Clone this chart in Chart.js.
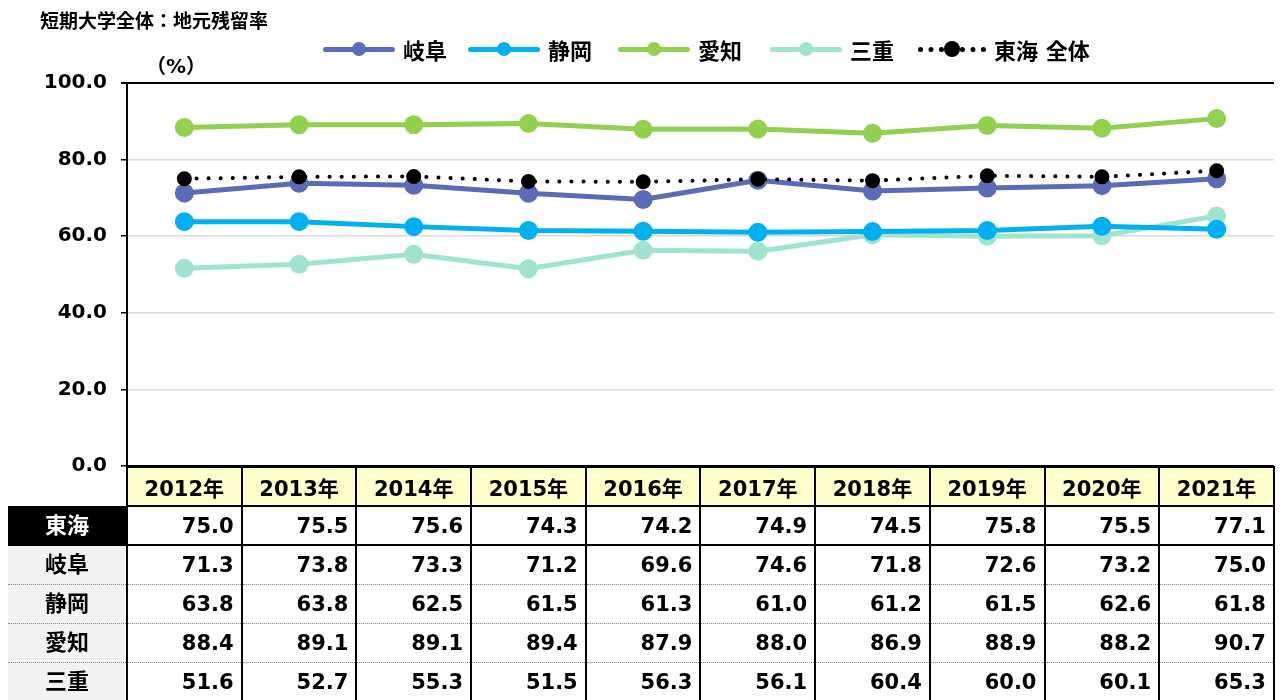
<!DOCTYPE html>
<html lang="ja">
<head>
<meta charset="utf-8">
<title>短期大学全体：地元残留率</title>
<script src="https://cdn.jsdelivr.net/npm/chart.js@4/dist/chart.umd.min.js"></script>
<style>
  html, body { margin: 0; padding: 0; background: #fff; }
  body { font-family: "DejaVu Sans", "Noto Sans CJK JP", sans-serif; font-weight: bold; color: #000; }
  #wrap { position: relative; width: 1286px; height: 700px; overflow: hidden; }
  #c { position: absolute; left: 0; top: 0; }
  #title { position: absolute; left: 40px; top: 6px; font-size: 19px; }
  #unit { position: absolute; left: 146px; top: 50px; font-size: 20px; }
  .lg { position: absolute; top: 33px; display: flex; align-items: center; font-size: 22px; white-space: nowrap; }
  .lg .mk { position: relative; width: 72px; height: 14px; margin-right: 8px; }
  .lg .ln { position: absolute; left: 0; right: 0; top: 5px; height: 5px; border-radius: 3px; }
  .lg .dt { position: absolute; left: 29px; top: 0; width: 14px; height: 14px; border-radius: 50%; }
  .lg .dots { position: absolute; left: 0; right: 0; top: 5px; height: 0; border-top: 5px dotted #000; }
  #tbl { position: absolute; left: 8px; top: 466px; border-collapse: collapse; table-layout: fixed; }
  #tbl tr { height: 39px; }
  #tbl td { height: 39px; padding: 0; font-size: 21px; box-sizing: border-box; }
  #tbl tr.hd td { background: #ffffcc; border: 2px solid #000; text-align: center; font-size: 21px; }
  #tbl tr.hd td.blank { background: transparent; border: none; border-right: 2px solid #000; }
  #tbl td.lab { text-align: center; background: #f2f2f2; border-right: 2px solid #000; font-size: 22px; padding-bottom: 5px; }
  #tbl tr.first td.lab { background: #000; color: #fff; }
  #tbl td.val { text-align: right; padding-right: 7px; border-right: 2px solid #000; border-bottom: 1px dotted #888; }
  #tbl tr.first td { border-bottom: 2px solid #000; }
  #tbl td.lab { border-bottom: 1px dotted #888; }
</style>
</head>
<body>
<div id="wrap">
  <canvas id="c" width="1286" height="700"></canvas>
  <table id="tbl"></table>
  <div id="title">短期大学全体：地元残留率</div>
  <div id="unit">（%）</div>
  <div id="legend"></div>
</div>
<script>
var years = ["2012年", "2013年", "2014年", "2015年", "2016年", "2017年", "2018年", "2019年", "2020年", "2021年"];
var tokai = [75.0, 75.5, 75.6, 74.3, 74.2, 74.9, 74.5, 75.8, 75.5, 77.1];
var gifu = [71.3, 73.8, 73.3, 71.2, 69.6, 74.6, 71.8, 72.6, 73.2, 75.0];
var shizuoka = [63.8, 63.8, 62.5, 61.5, 61.3, 61.0, 61.2, 61.5, 62.6, 61.8];
var aichi = [88.4, 89.1, 89.1, 89.4, 87.9, 88.0, 86.9, 88.9, 88.2, 90.7];
var mie = [51.6, 52.7, 55.3, 51.5, 56.3, 56.1, 60.4, 60.0, 60.1, 65.3];

var series = [
  { name: "東海", legend: "東海 全体", data: tokai, color: "#000000", dotted: true, left: 918 },
  { name: "岐阜", legend: "岐阜", data: gifu, color: "#5b6bb5", left: 323 },
  { name: "静岡", legend: "静岡", data: shizuoka, color: "#00b0f0", left: 468 },
  { name: "愛知", legend: "愛知", data: aichi, color: "#92d050", left: 618 },
  { name: "三重", legend: "三重", data: mie, color: "#a0e3d0", left: 770 }
];

function lineDataset(s) {
  var ds = {
    label: s.legend,
    data: s.data,
    borderColor: s.color,
    backgroundColor: s.color,
    pointBackgroundColor: s.color,
    pointBorderColor: s.color,
    borderWidth: 5,
    pointRadius: 7,
    pointHoverRadius: 7,
    tension: 0,
    clip: false
  };
  if (s.dotted) {
    ds.borderWidth = 4;
    ds.borderDash = [0.1, 12];
    ds.borderCapStyle = "round";
    ds.pointRadius = 6;
    ds.pointBorderWidth = 3;
    ds.pointBorderColor = "#000";
  }
  return ds;
}

var chart = new Chart(document.getElementById("c"), {
  type: "line",
  data: { labels: years, datasets: series.map(lineDataset) },
  options: {
    responsive: false,
    animation: false,
    layout: { padding: { top: 83, bottom: 234, left: 0, right: 0 } },
    plugins: { legend: { display: false }, tooltip: { enabled: false } },
    scales: {
      x: {
        offset: true,
        display: false
      },
      y: {
        min: 0,
        max: 100,
        ticks: {
          stepSize: 20,
          color: "#000",
          padding: 14,
          font: { family: "'DejaVu Sans', sans-serif", size: 20, weight: "bold" },
          callback: function (v) { return v.toFixed(1); }
        },
        grid: {
          color: function (ctx) { return ctx.tick && (ctx.tick.value === 100 || ctx.tick.value === 0) ? "#000" : "#d9d9d9"; },
          lineWidth: function (ctx) { return ctx.tick && ctx.tick.value === 100 ? 2 : 1.5; },
          tickColor: "#000",
          tickLength: 6
        },
        border: { color: "#000", width: 2 },
        afterFit: function (scale) { scale.width = 127; }
      }
    }
  }
});

// legend
var legend = document.getElementById("legend");
series.forEach(function (s) {
  var item = document.createElement("div");
  item.className = "lg";
  item.style.left = s.left + "px";
  var mk = document.createElement("span");
  mk.className = "mk";
  if (s.dotted) {
    mk.innerHTML = '<span class="dots"></span><span class="dt" style="background:#000;left:26px;width:16px;height:16px;top:-1px"></span>';
    mk.style.width = "68px";
  } else {
    mk.innerHTML = '<span class="ln" style="background:' + s.color + '"></span><span class="dt" style="background:' + s.color + '"></span>';
  }
  item.appendChild(mk);
  var tx = document.createElement("span");
  tx.textContent = s.legend;
  item.appendChild(tx);
  legend.appendChild(item);
});

// data table aligned to the x scale
var area = chart.chartArea;
var colW = (area.right - area.left) / years.length;
var tbl = document.getElementById("tbl");
var html = '<colgroup><col style="width:' + (area.left - 8) + 'px">';
years.forEach(function () { html += '<col style="width:' + colW + 'px">'; });
html += '</colgroup><tr class="hd"><td class="blank"></td>';
years.forEach(function (y) { html += "<td>" + y + "</td>"; });
html += "</tr>";
series.forEach(function (s, i) {
  html += '<tr class="' + (i === 0 ? "first" : "") + '"><td class="lab">' + s.name + "</td>";
  s.data.forEach(function (v) { html += '<td class="val">' + v.toFixed(1) + "</td>"; });
  html += "</tr>";
});
tbl.innerHTML = html;
</script>
</body>
</html>
